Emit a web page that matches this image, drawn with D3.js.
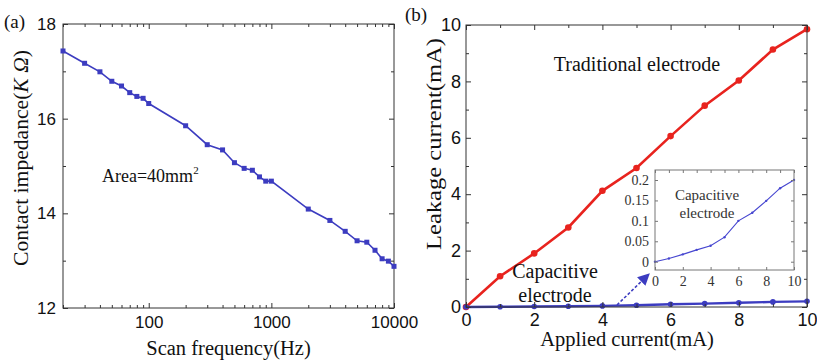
<!DOCTYPE html>
<html><head><meta charset="utf-8">
<script src="https://cdn.jsdelivr.net/npm/d3@7"></script>
<style>
body{margin:0;background:#fff;}
svg{display:block;}
.serif{font-family:"Liberation Serif","Times New Roman",Times,"Nimbus Roman","DejaVu Serif",serif;}
.sans{font-family:"Liberation Sans",Arial,Helvetica,sans-serif;}
</style></head>
<body>
<svg id="c" width="817" height="361"></svg>
<script>
// ---- data ----
const freqHz = [20,30,40,50,60,70,80,90,100,200,300,400,500,600,700,800,900,1000,2000,3000,4000,5000,6000,7000,8000,9000,10000];
const impedanceKOhm = [17.43,17.17,16.99,16.79,16.69,16.55,16.47,16.43,16.32,15.85,15.45,15.34,15.07,14.95,14.91,14.77,14.68,14.68,14.09,13.85,13.62,13.42,13.39,13.22,13.04,12.99,12.88];
const appliedCurrent = [0,1,2,3,4,5,6,7,8,9,10];
const traditionalLeak = [0,1.09,1.9,2.82,4.12,4.93,6.06,7.14,8.03,9.13,9.85];
const capacitiveLeak = [0,0.008,0.018,0.029,0.039,0.06,0.1,0.12,0.149,0.18,0.2];
const impTicks = [12,14,16,18];
const impMinor = [13,15,17];
const freqTicks = [100,1000,10000];
const freqMinor = [20,30,40,50,60,70,80,90,200,300,400,500,600,700,800,900,2000,3000,4000,5000,6000,7000,8000,9000];
const curTicks = [0,2,4,6,8,10];
const curMinor = [1,3,5,7,9];
const insetYTicks = [0,0.05,0.1,0.15,0.2];
const insetXTicks = [0,2,4,6,8,10];
const insetXMinor = [1,3,5,7,9];

const svg = d3.select("#c");
const AX = "#333";
const BLUE = "#3c3cc0";
const RED = "#e8231e";

function frame(g, x0,x1,y0,y1,col){
  g.append("rect").attr("x",x0).attr("y",y0).attr("width",x1-x0).attr("height",y1-y0)
   .attr("fill","none").attr("stroke",col||AX).attr("stroke-width",1);
}
function styleAxis(sel, cls, size, col){
  sel.attr("font-family",null);
  sel.select(".domain").remove();
  sel.selectAll(".tick line").attr("stroke",col||AX);
  sel.selectAll(".tick text").attr("class",cls).attr("font-size",size).attr("fill","#111");
}
function label(x,y,txt,size,anchor,fill){
  return svg.append("text").attr("class","serif").attr("x",x).attr("y",y).attr("font-size",size)
    .attr("text-anchor",anchor||"start").attr("fill",fill||"#111").text(txt);
}

// ================= Panel (a) =================
const ax0=63, ax1=394, ay0=24, ay1=308;
const xA = d3.scaleLog().domain([20,10000]).range([ax0,ax1]);
const yA = d3.scaleLinear().domain([12,18]).range([ay1,ay0]);
const gA = svg.append("g");
frame(gA,ax0,ax1,ay0,ay1);
gA.append("g").attr("transform",`translate(${ax0},0)`)
  .call(d3.axisLeft(yA).tickValues(impTicks).tickSize(-5).tickPadding(7).tickFormat(d3.format("d")))
  .call(s=>styleAxis(s,"sans",17));
gA.append("g").attr("transform",`translate(${ax0},0)`)
  .call(d3.axisLeft(yA).tickValues(impMinor).tickSize(-3).tickFormat(""))
  .call(s=>styleAxis(s,"sans",17));
gA.append("g").attr("transform",`translate(${ax1},0)`)
  .call(d3.axisRight(yA).tickValues(impTicks).tickSize(-5).tickFormat(""))
  .call(s=>styleAxis(s,"sans",17));
gA.append("g").attr("transform",`translate(${ax1},0)`)
  .call(d3.axisRight(yA).tickValues(impMinor).tickSize(-3).tickFormat(""))
  .call(s=>styleAxis(s,"sans",17));
gA.append("g").attr("transform",`translate(0,${ay1})`)
  .call(d3.axisBottom(xA).tickValues(freqTicks).tickSize(-5).tickPadding(8).tickFormat(d3.format("d")))
  .call(s=>styleAxis(s,"sans",17));
gA.append("g").attr("transform",`translate(0,${ay1})`)
  .call(d3.axisBottom(xA).tickValues(freqMinor).tickSize(-3).tickFormat(""))
  .call(s=>styleAxis(s,"sans",17));
gA.append("g").attr("transform",`translate(0,${ay0})`)
  .call(d3.axisTop(xA).tickValues(freqTicks).tickSize(-5).tickFormat(""))
  .call(s=>styleAxis(s,"sans",17));
gA.append("g").attr("transform",`translate(0,${ay0})`)
  .call(d3.axisTop(xA).tickValues(freqMinor).tickSize(-3).tickFormat(""))
  .call(s=>styleAxis(s,"sans",17));

const dA = freqHz.map((f,i)=>({x:f,y:impedanceKOhm[i]}));
gA.append("path").datum(dA).attr("fill","none").attr("stroke",BLUE).attr("stroke-width",1.6)
  .attr("d",d3.line().x(d=>xA(d.x)).y(d=>yA(d.y)));
gA.selectAll("rect.pt").data(dA).enter().append("rect").attr("class","pt")
  .attr("x",d=>xA(d.x)-2.5).attr("y",d=>yA(d.y)-2.5).attr("width",5).attr("height",5).attr("fill",BLUE);

label(4,28,"(a)",19);
svg.append("text").attr("class","serif").attr("transform","translate(28,158) rotate(-90)").attr("text-anchor","middle")
  .attr("font-size",21).attr("fill","#111")
  .attr("textLength",216).attr("lengthAdjust","spacingAndGlyphs")
  .call(t=>{t.append("tspan").text("Contact impedance(");t.append("tspan").attr("font-style","italic").text("K Ω");t.append("tspan").text(")");});
label((ax0+ax1)/2,355,"Scan frequency(Hz)",20.5,"middle");
label(102,182,"",18).call(t=>{t.append("tspan").text("Area=40mm");t.append("tspan").attr("font-size",11).attr("dy",-8).text("2");});

// ================= Panel (b) =================
const bx0=466, bx1=807, by0=25, by1=307;
const xB = d3.scaleLinear().domain([0,10]).range([bx0,bx1]);
const yB = d3.scaleLinear().domain([0,10]).range([by1,by0]);
const gB = svg.append("g");

const dT = appliedCurrent.map((x,i)=>({x,y:traditionalLeak[i]}));
const dC = appliedCurrent.map((x,i)=>({x,y:capacitiveLeak[i]}));
gB.append("path").datum(dT).attr("fill","none").attr("stroke",RED).attr("stroke-width",2.6)
  .attr("d",d3.line().x(d=>xB(d.x)).y(d=>yB(d.y)));
gB.selectAll("circle.t").data(dT).enter().append("circle").attr("class","t")
  .attr("cx",d=>xB(d.x)).attr("cy",d=>yB(d.y)).attr("r",3.3).attr("fill",RED);
gB.append("path").datum(dC).attr("fill","none").attr("stroke",BLUE).attr("stroke-width",2.4)
  .attr("d",d3.line().x(d=>xB(d.x)).y(d=>yB(d.y)));
gB.selectAll("circle.c").data(dC).enter().append("circle").attr("class","c")
  .attr("cx",d=>xB(d.x)).attr("cy",d=>yB(d.y)).attr("r",2.8).attr("fill",BLUE);

frame(gB,bx0,bx1,by0,by1);
gB.append("g").attr("transform",`translate(${bx0},0)`)
  .call(d3.axisLeft(yB).tickValues(curTicks).tickSize(-5).tickPadding(5).tickFormat(d3.format("d")))
  .call(s=>styleAxis(s,"sans",18));
gB.append("g").attr("transform",`translate(${bx0},0)`)
  .call(d3.axisLeft(yB).tickValues(curMinor).tickSize(-3).tickFormat(""))
  .call(s=>styleAxis(s,"sans",18));
gB.append("g").attr("transform",`translate(${bx1},0)`)
  .call(d3.axisRight(yB).tickValues(curTicks).tickSize(-5).tickFormat(""))
  .call(s=>styleAxis(s,"sans",18));
gB.append("g").attr("transform",`translate(${bx1},0)`)
  .call(d3.axisRight(yB).tickValues(curMinor).tickSize(-3).tickFormat(""))
  .call(s=>styleAxis(s,"sans",18));
gB.append("g").attr("transform",`translate(0,${by1})`)
  .call(d3.axisBottom(xB).tickValues(curTicks).tickSize(-5).tickPadding(6).tickFormat(d3.format("d")))
  .call(s=>styleAxis(s,"sans",18));
gB.append("g").attr("transform",`translate(0,${by1})`)
  .call(d3.axisBottom(xB).tickValues(curMinor).tickSize(-3).tickFormat(""))
  .call(s=>styleAxis(s,"sans",18));
gB.append("g").attr("transform",`translate(0,${by0})`)
  .call(d3.axisTop(xB).tickValues(curTicks).tickSize(-5).tickFormat(""))
  .call(s=>styleAxis(s,"sans",18));
gB.append("g").attr("transform",`translate(0,${by0})`)
  .call(d3.axisTop(xB).tickValues(curMinor).tickSize(-3).tickFormat(""))
  .call(s=>styleAxis(s,"sans",18));

label(405,21,"(b)",19);
svg.append("text").attr("class","serif").attr("transform","translate(441,144) rotate(-90)").attr("text-anchor","middle")
  .attr("font-size",21).attr("fill","#111")
  .attr("textLength",212).attr("lengthAdjust","spacingAndGlyphs").text("Leakage current(mA)");
label(627,346,"Applied current(mA)",20.5,"middle");
label(637,71,"Traditional electrode",20,"middle");
label(555,278,"Capacitive",20,"middle");
label(555,302,"electrode",20,"middle");

// arrow
const defs = svg.append("defs");
defs.append("marker").attr("id","ah").attr("viewBox","0 0 10 10").attr("refX",9).attr("refY",5)
  .attr("markerWidth",12).attr("markerHeight",12).attr("markerUnits","userSpaceOnUse").attr("orient","auto")
  .append("path").attr("d","M0,0 L10,5 L0,10 z").attr("fill",BLUE);
svg.append("line").attr("x1",617).attr("y1",305).attr("x2",649).attr("y2",274)
  .attr("stroke",BLUE).attr("stroke-width",1.6).attr("stroke-dasharray","3,2").attr("marker-end","url(#ah)");

// ================= Inset =================
const ix0=655, ix1=794, iy0=170, iy1=270;
const xI = d3.scaleLinear().domain([0,10]).range([ix0,ix1]);
const yI = d3.scaleLinear().domain([-0.0203,0.2245]).range([iy1,iy0]);
const gI = svg.append("g");
gI.append("rect").attr("x",ix0).attr("y",iy0).attr("width",ix1-ix0).attr("height",iy1-iy0).attr("fill","#fff");
gI.append("path").datum(dC).attr("fill","none").attr("stroke","#4646d0").attr("stroke-width",1.1)
  .attr("d",d3.line().x(d=>xI(d.x)).y(d=>yI(d.y)));
gI.selectAll("circle").data(dC).enter().append("circle")
  .attr("cx",d=>xI(d.x)).attr("cy",d=>yI(d.y)).attr("r",1.2).attr("fill","#4646d0");
frame(gI,ix0,ix1,iy0,iy1,"#777");
const IG="#777";
gI.append("g").attr("transform",`translate(${ix0},0)`)
  .call(d3.axisLeft(yI).tickValues(insetYTicks).tickSize(-3).tickPadding(6).tickFormat(d=>String(+d.toFixed(2))))
  .call(s=>styleAxis(s,"serif",14,IG));
gI.append("g").attr("transform",`translate(0,${iy1})`)
  .call(d3.axisBottom(xI).tickValues(insetXTicks).tickSize(-3).tickPadding(6).tickFormat(d3.format("d")))
  .call(s=>styleAxis(s,"serif",14,IG));
gI.append("g").attr("transform",`translate(0,${iy0})`)
  .call(d3.axisTop(xI).tickValues(insetXTicks.concat(insetXMinor)).tickSize(-3).tickFormat(""))
  .call(s=>styleAxis(s,"serif",14,IG));
gI.append("g").attr("transform",`translate(${ix1},0)`)
  .call(d3.axisRight(yI).tickValues(insetYTicks).tickSize(-3).tickFormat(""))
  .call(s=>styleAxis(s,"serif",14,IG));
gI.selectAll("text").attr("fill","#333");
gI.append("text").attr("class","serif").attr("x",707).attr("y",200).attr("text-anchor","middle")
  .attr("font-size",15).attr("fill","#333").text("Capacitive");
gI.append("text").attr("class","serif").attr("x",707).attr("y",218).attr("text-anchor","middle")
  .attr("font-size",15).attr("fill","#333").text("electrode");
</script>
</body></html>
